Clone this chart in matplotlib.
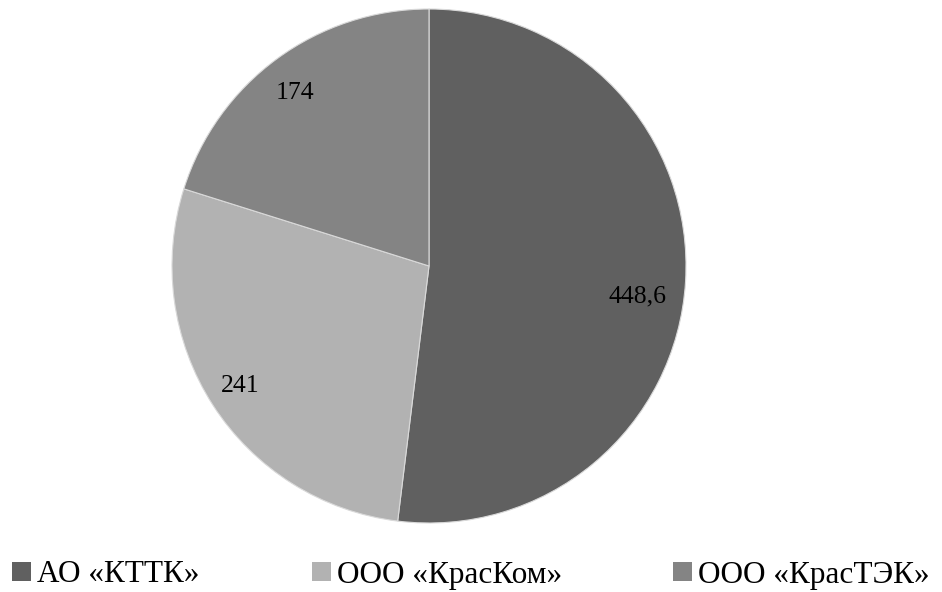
import matplotlib
matplotlib.use("Agg")
import matplotlib.pyplot as plt
from matplotlib.patches import Patch
import numpy as np

categories = ["АО «КТТК»", "ООО «КрасКом»", "ООО «КрасТЭК»"]
values = [448.6, 241, 174]
value_labels = ["448,6", "241", "174"]
colors = ["#606060", "#b2b2b2", "#848484"]

plt.rcParams['font.family'] = ['Liberation Serif', 'DejaVu Serif']

fig = plt.figure(figsize=(9.42, 5.92), dpi=100)
cx, cy, r = 429 / 942, 1 - 266 / 592, 257
w, h = 2 * r / 942, 2 * r / 592
ax = fig.add_axes([cx - w / 2, cy - h / 2, w, h])
wedges, _ = ax.pie(values, colors=colors, startangle=90, counterclock=False,
                   radius=1, wedgeprops=dict(edgecolor="#d9d9d9", linewidth=0.8))
ax.set_xlim(-1, 1)
ax.set_ylim(-1, 1)
ax.set_aspect("equal")
ax.axis("off")

dists = [0.82, 0.87, 0.85]
ang_shift = [-4.7, -0.3, 1.5]
for wd, lab, d, s in zip(wedges, value_labels, dists, ang_shift):
    ang = np.deg2rad((wd.theta1 + wd.theta2) / 2 + s)
    ax.text(d * np.cos(ang), d * np.sin(ang), lab, ha="center", va="center",
            fontsize=18.5, color="black")

xs = [12 / 942, 312 / 942, 673 / 942]
for x, cat, col in zip(xs, categories, colors):
    fig.legend(handles=[Patch(facecolor=col, edgecolor="none")], labels=[cat],
               loc="center left", bbox_to_anchor=(x, 1 - 575 / 592),
               frameon=False, fontsize=22.5, handlelength=0.6, handleheight=0.6,
               handletextpad=0.2, borderpad=0, borderaxespad=0)

fig.savefig("out.png", dpi=100)
